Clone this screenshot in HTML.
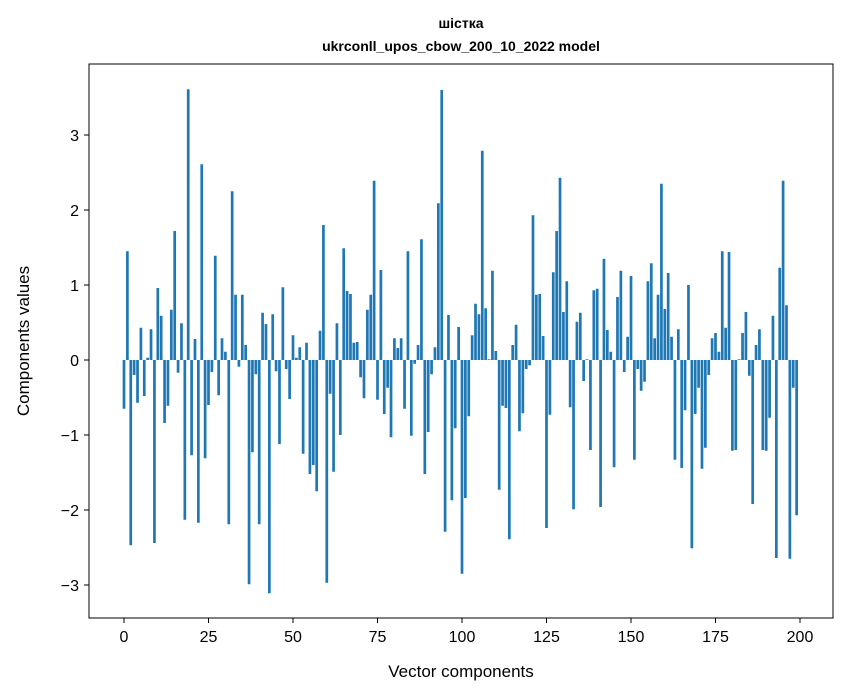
<!DOCTYPE html>
<html><head><meta charset="utf-8"><style>
body{margin:0;background:#fff;}
svg{display:block;font-family:"Liberation Sans","DejaVu Sans",sans-serif;}
</style></head><body>
<svg id="chart" width="847" height="696">
<rect width="847" height="696" fill="#fff"/>
<text x="461" y="28" text-anchor="middle" font-size="14" font-weight="bold">шістка</text>
<text x="461" y="51" text-anchor="middle" font-size="14" font-weight="bold">ukrconll_upos_cbow_200_10_2022 model</text>
<g id="bars"></g>
<g id="xticks"></g>
<g id="yticks"></g>
<rect x="89" y="64" width="744" height="554" fill="none" stroke="#000" stroke-width="1"/>
<text x="461" y="677" text-anchor="middle" font-size="17">Vector components</text>
<text transform="translate(29,341) rotate(-90)" text-anchor="middle" font-size="17">Components values</text>
</svg>
<script>
const values = [-0.65,1.45,-2.47,-0.2,-0.57,0.43,-0.48,0.03,0.41,-2.44,
0.96,0.59,-0.84,-0.61,0.67,1.72,-0.17,0.49,-2.13,3.61,
-1.27,0.28,-2.17,2.61,-1.31,-0.6,-0.16,1.39,-0.47,0.29,
0.11,-2.19,2.25,0.87,-0.09,0.87,0.2,-2.99,-1.23,-0.19,
-2.19,0.63,0.48,-3.11,0.61,-0.15,-1.12,0.97,-0.12,-0.52,
0.33,0.03,0.17,-1.25,0.23,-1.52,-1.4,-1.75,0.39,1.8,
-2.97,-0.45,-1.49,0.49,-1.0,1.49,0.92,0.88,0.23,0.24,
-0.23,-0.51,0.67,0.87,2.39,-0.53,1.2,-0.72,-0.37,-1.03,
0.29,0.16,0.29,-0.65,1.45,-1.01,-0.05,0.2,1.61,-1.52,
-0.96,-0.19,0.17,2.09,3.6,-2.29,0.6,-1.87,-0.91,0.44,
-2.85,-1.84,-0.75,0.33,0.75,0.61,2.79,0.69,0.01,1.19,
0.12,-1.73,-0.61,-0.64,-2.39,0.2,0.47,-0.95,-0.71,-0.12,
-0.07,1.93,0.87,0.88,0.32,-2.24,-0.73,1.17,1.72,2.43,
0.64,1.05,-0.63,-1.99,0.51,0.63,-0.28,0.01,-1.2,0.93,
0.95,-1.96,1.35,0.4,0.11,-1.43,0.84,1.19,-0.16,0.31,
1.12,-1.33,-0.12,-0.41,-0.29,1.05,1.29,0.29,0.87,2.35,
0.68,1.16,0.31,-1.33,0.41,-1.44,-0.67,1.0,-2.51,-0.72,
-0.37,-1.45,-1.17,-0.2,0.29,0.36,0.11,1.45,0.43,1.44,
-1.21,-1.2,0.01,0.36,0.64,-0.21,-1.92,0.2,0.41,-1.2,
-1.21,-0.77,0.59,-2.64,1.23,2.39,0.73,-2.65,-0.37,-2.07];
const xTicks = [0,25,50,75,100,125,150,175,200];
const yTicks = [-3,-2,-1,0,1,2,3];
const NS="http://www.w3.org/2000/svg";
function xs(v){return 124+v*3.38;}
function ys(v){return 360-v*75;}
const bars=document.getElementById('bars');
values.forEach((v,i)=>{
  const r=document.createElementNS(NS,'rect');
  const w=0.8*3.38;
  r.setAttribute('x',xs(i)-w/2);
  r.setAttribute('width',w);
  r.setAttribute('y',Math.min(ys(v),ys(0)));
  r.setAttribute('height',Math.abs(ys(v)-ys(0)));
  r.setAttribute('fill','#1f77b4');
  
  
  bars.appendChild(r);
});
const xg=document.getElementById('xticks');
xTicks.forEach(t=>{
  const l=document.createElementNS(NS,'line');
  l.setAttribute('x1',xs(t));l.setAttribute('x2',xs(t));
  l.setAttribute('y1',618);l.setAttribute('y2',623);
  l.setAttribute('stroke','#000');
  
  
  xg.appendChild(l);
  const tx=document.createElementNS(NS,'text');
  tx.setAttribute('x',xs(t));tx.setAttribute('y',642);
  tx.setAttribute('text-anchor','middle');tx.setAttribute('font-size','16');
  tx.textContent=String(t);
  
  
  xg.appendChild(tx);
});
const yg=document.getElementById('yticks');
yTicks.forEach(t=>{
  const l=document.createElementNS(NS,'line');
  l.setAttribute('x1',84);l.setAttribute('x2',89);
  l.setAttribute('y1',ys(t));l.setAttribute('y2',ys(t));
  l.setAttribute('stroke','#000');
  
  
  yg.appendChild(l);
  const tx=document.createElementNS(NS,'text');
  tx.setAttribute('x',79);tx.setAttribute('y',ys(t)+6);
  tx.setAttribute('text-anchor','end');tx.setAttribute('font-size','16');
  tx.textContent=(t<0?'\u2212'+(-t):String(t));
  
  
  yg.appendChild(tx);
});
</script>
</body></html>
